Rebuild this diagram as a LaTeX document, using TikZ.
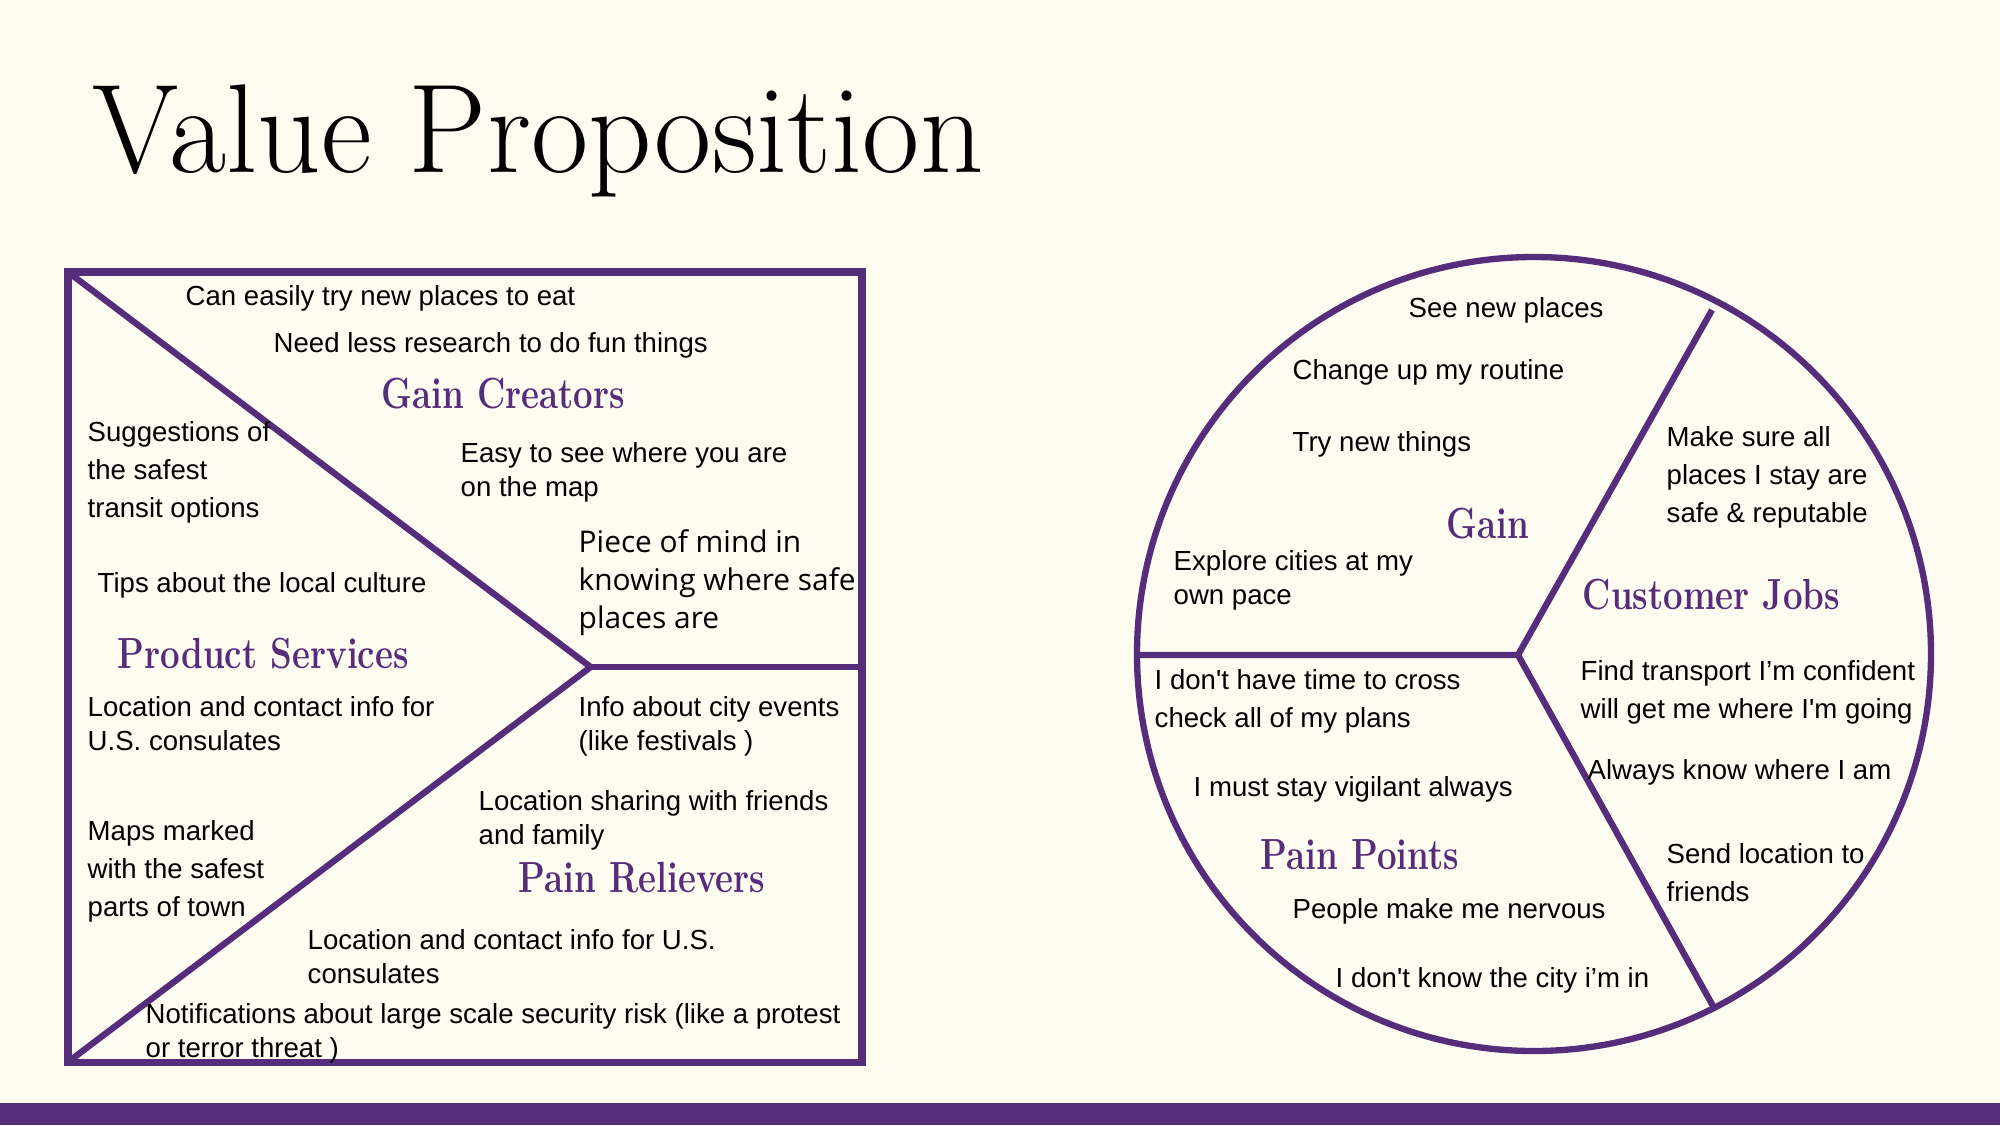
\documentclass[tikz,border=0pt]{standalone}
\usepackage{fontspec}
\usepackage{graphicx}
\newfontfamily\bodyfont{Liberation Sans}
\newfontfamily\opensans{Open Sans}
\definecolor{vp}{RGB}{86,45,122}
\definecolor{paper}{RGB}{254,251,241}
\newcommand\hd[1]{\scalebox{0.8}[1]{#1}}
% multi-line nodes sit on the baseline of their last line
\tikzset{
  frame/.style={draw=vp, line width=2pt, line join=miter},
  divider/.style={draw=vp, line width=1.8pt},
  head/.style={anchor=base west, inner sep=0pt, text=vp,
    font=\fontsize{12.4pt}{14pt}\selectfont\bfseries},
  txt/.style={anchor=base west, inner sep=0pt, align=left,
    font=\bodyfont\fontsize{7.85pt}{10.8pt}\selectfont},
  txtb/.style={anchor=base west, inner sep=0pt, align=left,
    font=\bodyfont\fontsize{7.85pt}{9.4pt}\selectfont},
  big/.style={anchor=base west, inner sep=0pt, align=left,
    font=\opensans\fontsize{8.5pt}{10.8pt}\selectfont},
}
\begin{document}
\begin{tikzpicture}[x=1cm, y=-1cm]
% page and footer band
\fill[paper] (0,0) rectangle (20,11.25);
\useasboundingbox (0,0) rectangle (20,11.25);
\fill[vp] (0,11.03) rectangle (20,11.25);

% title
\node[anchor=base west, inner sep=0pt, font=\fontsize{36pt}{40pt}\selectfont]
  (title) at (0.92,1.72) {\scalebox{0.983}[1]{Value Proposition}};

% value map: square split by a chevron
\coordinate (tl) at (0.68,2.72);
\coordinate (br) at (8.62,10.62);
\coordinate (bl) at (0.68,10.62);
\coordinate (apex) at (5.906,6.67);
\coordinate (rmid) at (8.62,6.67);
\draw[frame] (tl) rectangle (br);
\draw[divider, line join=miter] (tl) -- (apex) -- (bl);
\draw[divider] (apex) -- (rmid);

\begin{scope}[yshift=-0.02cm]
\node[txt] (g1) at (1.85,3.03) {Can easily try new places to eat};
\node[txt] (g2) at (2.73,3.50) {Need less research to do fun things};
\node[head] (gc) at (3.81,4.06) {\hd{Gain Creators}};
\node[txt] (p1) at (0.87,5.15) {Suggestions of\\the safest\\transit options};
\node[txtb] (g3) at (4.60,4.94) {Easy to see where you are\\on the map};
\node[big] (g4) at (5.78,6.26) {Piece of mind in\\knowing where safe\\places are};
\node[txt] (p2) at (0.97,5.90) {Tips about the local culture};
\node[head] (ps) at (1.17,6.66) {\hd{Product Services}};
\node[txtb] (p3) at (0.87,7.48) {Location and contact info for\\U.S. consulates};
\node[txtb] (r1) at (5.78,7.48) {Info about city events\\(like festivals )};
\node[txtb] (r2) at (4.78,8.42) {Location sharing with friends\\and family};
\node[txt] (p4) at (0.87,9.14) {Maps marked\\with the safest\\parts of town};
\node[head] (pr) at (5.18,8.90) {\hd{Pain Relievers}};
\node[txtb] (r3) at (3.07,9.81) {Location and contact info for U.S.\\consulates};
\node[txtb] (r4) at (1.45,10.55) {Notifications about large scale security risk (like a protest\\or terror threat )};
\end{scope}

% customer profile: circle in three sectors
\coordinate (cc) at (15.34,6.54);
\coordinate (hub) at (15.18,6.55);
\coordinate (west) at (11.37,6.55);
\coordinate (ne) at (17.12,3.10);
\coordinate (se) at (17.13,10.06);
\draw[divider] (cc) circle (3.97);
\draw[divider] (west) -- (hub) -- (ne);
\draw[divider] (hub) -- (se);

\begin{scope}[yshift=-0.02cm]
\node[txt] (c1) at (14.08,3.15) {See new places};
\node[txt] (c2) at (12.92,3.77) {Change up my routine};
\node[txt] (c3) at (12.92,4.49) {Try new things};
\node[head] (gn) at (14.46,5.36) {\hd{Gain}};
\node[txt] (j1) at (16.66,5.20) {Make sure all\\places I stay are\\safe \& reputable};
\node[txtb] (c4) at (11.73,6.02) {Explore cities at my\\own pace};
\node[head] (cj) at (15.82,6.07) {\hd{Customer Jobs}};
\node[txt] (k1) at (11.54,7.25) {I don\textquotesingle t have time to cross\\check all of my plans};
\node[txt] (j2) at (15.80,7.16) {Find transport I’m confident\\will get me where I\textquotesingle m going};
\node[txt] (j3) at (15.87,7.77) {Always know where I am};
\node[txt] (k2) at (11.93,7.94) {I must stay vigilant always};
\node[head] (pp) at (12.60,8.67) {\hd{Pain Points}};
\node[txt] (j4) at (16.66,8.99) {Send location to\\friends};
\node[txt] (k3) at (12.92,9.16) {People make me nervous};
\node[txt] (k4) at (13.35,9.85) {I don\textquotesingle t know the city i’m in};
\end{scope}
\end{tikzpicture}
\end{document}
